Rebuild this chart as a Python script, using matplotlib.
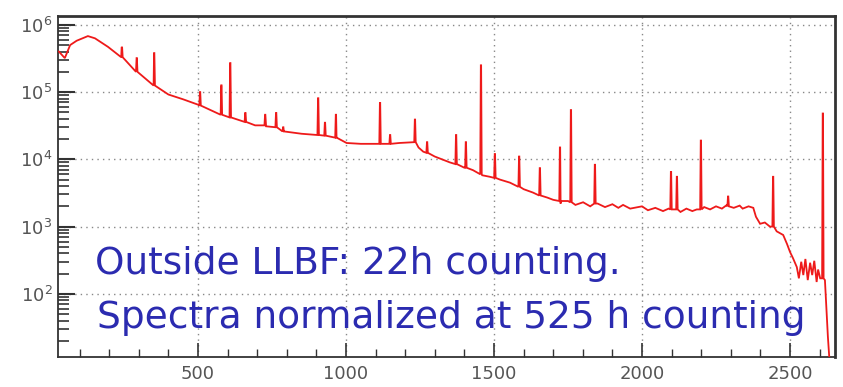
import numpy as np
import matplotlib
matplotlib.use("Agg")
import matplotlib.pyplot as plt
from matplotlib.ticker import MultipleLocator, LogLocator, NullFormatter
from matplotlib.patches import Rectangle

# ---- data ----
cont_E = [30, 50, 68, 90, 128, 152, 196, 243, 290, 350, 400, 450, 500, 550, 600,
          650, 693, 730, 790, 850, 900, 968, 1002, 1050, 1125, 1180, 1226, 1245,
          1261, 1300, 1351, 1400, 1429, 1460, 1486, 1520, 1554, 1600, 1632, 1680,
          1700, 1725, 1750, 1775, 1801, 1825, 1850, 1875, 1900, 1920, 1936, 1960,
          2000, 2020, 2045, 2071, 2090, 2130, 2150, 2170, 2185, 2210, 2230, 2250,
          2270, 2287, 2310, 2330, 2340, 2360, 2376, 2385, 2399, 2415, 2432, 2455,
          2477, 2490, 2500, 2510, 2523, 2530, 2538, 2545, 2552, 2560, 2568, 2575,
          2582, 2590, 2595, 2602, 2618, 2628, 2635, 2645]
cont_C = [4.0e5, 3.2e5, 5.0e5, 5.8e5, 6.8e5, 6.3e5, 4.7e5, 3.3e5, 2.0e5, 1.25e5,
          9.2e4, 7.8e4, 6.5e4, 5.2e4, 4.3e4, 3.7e4, 3.2e4, 3.1e4, 2.6e4, 2.4e4,
          2.3e4, 2.1e4, 1.75e4, 1.7e4, 1.7e4, 1.75e4, 1.8e4, 1.5e4, 1.3e4, 1.1e4,
          9.0e3, 7.5e3, 6.9e3, 5.8e3, 5.5e3, 5.0e3, 4.5e3, 3.6e3, 3.2e3, 2.7e3,
          2.5e3, 2.2e3, 2.4e3, 2.1e3, 2.3e3, 2.0e3, 2.2e3, 1.95e3, 2.15e3, 1.9e3,
          2.1e3, 1.85e3, 2.0e3, 1.75e3, 1.9e3, 1.7e3, 1.85e3, 1.65e3, 1.85e3, 1.7e3,
          1.8e3, 1.95e3, 1.8e3, 2.0e3, 1.85e3, 2.1e3, 1.9e3, 2.05e3, 1.85e3, 2.0e3,
          1.9e3, 1.4e3, 1.1e3, 1.15e3, 1.0e3, 8.5e2, 7.5e2, 5.5e2, 4.2e2, 3.4e2,
          2.5e2, 1.7e2, 3.0e2, 1.9e2, 3.3e2, 1.6e2, 2.9e2, 1.9e2, 3.1e2, 1.5e2,
          2.3e2, 1.7e2, 1.6e2, 23, 8, 5]

peak_E = [243, 293, 352, 507, 579, 609, 660, 727, 764, 788, 906, 929, 966, 1115,
          1149, 1233, 1274, 1372, 1405, 1456, 1503, 1585, 1655, 1723, 1760, 1841,
          2098, 2118, 2199, 2291, 2443, 2611]
peak_top = [4.7e5, 3.2e5, 3.8e5, 1.0e5, 1.26e5, 2.7e5, 4.9e4, 4.6e4, 4.9e4, 3.0e4,
            8.1e4, 3.5e4, 4.6e4, 6.9e4, 2.3e4, 3.9e4, 1.8e4, 2.3e4, 1.8e4, 2.5e5,
            1.2e4, 1.1e4, 7.4e3, 1.5e4, 5.4e4, 8.3e3, 6.5e3, 5.5e3, 1.9e4, 2.8e3,
            5.5e3, 4.8e4]
peak_base = [3.3e5, 2.0e5, 1.25e5, 6.3e4, 4.6e4, 4.2e4, 3.6e4, 3.2e4, 3.0e4, 2.6e4,
             2.3e4, 2.25e4, 2.1e4, 1.7e4, 1.7e4, 1.8e4, 1.25e4, 8.5e3, 7.5e3, 6.0e3,
             5.3e3, 3.9e3, 2.9e3, 2.4e3, 2.3e3, 2.2e3, 1.8e3, 1.8e3, 1.8e3, 2.0e3,
             1.0e3, 1.7e2]

xticks = [500, 1000, 1500, 2000, 2500]
text_lines = ["Outside LLBF: 22h counting.", "Spectra normalized at 525 h counting"]

# ---- build the spectrum line ----
pts = list(zip(cont_E, cont_C))
hw = 2.5
for e, t, b in zip(peak_E, peak_top, peak_base):
    pts += [(e - hw, b), (e - 0.5, t), (e + 0.5, t), (e + hw, b)]
pts.sort(key=lambda p: p[0])
xs = [p[0] for p in pts]
ys = [p[1] for p in pts]

fig = plt.figure(figsize=(8.43, 3.87), dpi=100)
ax = fig.add_axes([0.0688, 0.0775, 0.9217, 0.881])

ax.set_yscale("log")
ax.set_xlim(27, 2652)
ax.set_ylim(11.5, 1.35e6)

ax.grid(True, which="major", linestyle=(0, (1, 3)), color="#888888", linewidth=1.0, zorder=0)

ax.plot(xs, ys, color="#ee1a1a", linewidth=1.3, zorder=3, solid_joinstyle="miter")

# white patch visible behind the text in the picture
ax.add_patch(Rectangle((1993, 10 ** 2.06), 2483 - 1993, 10 ** 2.76 - 10 ** 2.06,
                       facecolor="white", edgecolor="none", zorder=1))

ax.set_xticks(xticks)
ax.xaxis.set_minor_locator(MultipleLocator(100))
ax.yaxis.set_major_locator(LogLocator(base=10, numticks=10))
ax.yaxis.set_minor_locator(LogLocator(base=10, subs=np.arange(2, 10), numticks=20))
ax.yaxis.set_minor_formatter(NullFormatter())

ax.tick_params(axis="both", which="both", direction="in", top=False, right=False,
               colors="#333333", labelcolor="#555555", labelsize=13)
ax.tick_params(axis="x", which="major", length=10, width=1.2, pad=6)
ax.tick_params(axis="x", which="minor", length=6, width=1.0)
ax.tick_params(axis="y", which="major", length=12, width=1.5, pad=4)
ax.tick_params(axis="y", which="minor", length=8, width=1.2)

for s in ax.spines.values():
    s.set_color("#333333")
    s.set_linewidth(1.3)
ax.spines["top"].set_linewidth(2.0)
ax.spines["right"].set_linewidth(2.0)

ax.text(0.048, 0.243, text_lines[0], transform=ax.transAxes, fontsize=27,
        color="#2b2bb0", family="DejaVu Sans", va="baseline", ha="left", zorder=5)
ax.text(0.050, 0.085, text_lines[1], transform=ax.transAxes, fontsize=27,
        color="#2b2bb0", family="DejaVu Sans", va="baseline", ha="left", zorder=5)

fig.savefig("out.png", dpi=100)
